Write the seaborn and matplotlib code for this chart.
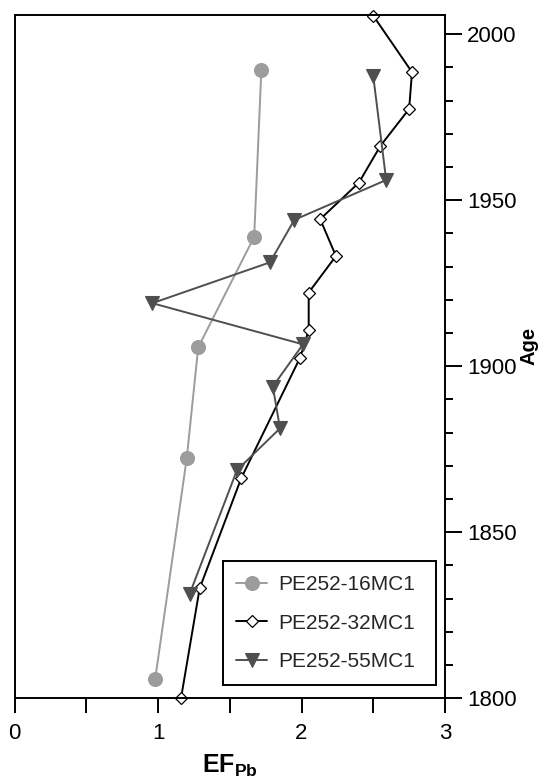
import matplotlib
matplotlib.use("Agg")
import matplotlib.pyplot as plt
import seaborn as sns
from matplotlib.ticker import FixedLocator, MultipleLocator

# ---- data ----
core16_age = [1989.2, 1939.0, 1905.7, 1872.3, 1805.8]
core16_ef = [1.72, 1.67, 1.28, 1.20, 0.98]

core32_age = [2005.6, 1988.6, 1977.5, 1966.4, 1955.3, 1944.3, 1933.2,
              1922.2, 1910.9, 1902.6, 1866.3, 1833.1, 1800.0]
core32_ef = [2.50, 2.77, 2.75, 2.55, 2.40, 2.13, 2.24,
             2.05, 2.05, 1.99, 1.58, 1.29, 1.16]

core55_age = [1987.4, 1956.1, 1944.1, 1931.3, 1919.0, 1906.6,
              1893.9, 1881.3, 1868.7, 1831.4]
core55_ef = [2.50, 2.59, 1.95, 1.78, 0.96, 2.01,
             1.80, 1.85, 1.55, 1.22]

series_labels = ["PE252-16MC1", "PE252-32MC1", "PE252-55MC1"]
x_ticks = [0, 1, 2, 3]
x_minor = [0.5, 1.5, 2.5]
y_ticks = [1800, 1850, 1900, 1950, 2000]

sns.set_theme(style="white")
plt.rcParams["font.family"] = ["Liberation Sans", "DejaVu Sans"]
plt.rcParams["mathtext.fontset"] = "custom"
plt.rcParams["mathtext.bf"] = "Liberation Sans:bold"
plt.rcParams["mathtext.rm"] = "Liberation Sans"
plt.rcParams["axes.edgecolor"] = "black"
plt.rcParams["axes.linewidth"] = 1.4

fig = plt.figure(figsize=(5.44, 7.78), dpi=100)
ax = fig.add_axes([0.0268, 0.1025, 0.7912, 0.8782])

c16 = "#9c9c9c"
c55 = "#4f4f4f"

sns.lineplot(x=core16_ef, y=core16_age, sort=False, estimator=None, ax=ax,
             color=c16, linewidth=1.4, marker="o", markersize=10,
             markeredgecolor=c16, markerfacecolor=c16, markeredgewidth=0.8,
             label=series_labels[0], clip_on=False)
sns.lineplot(x=core32_ef, y=core32_age, sort=False, estimator=None, ax=ax,
             color="black", linewidth=1.4, marker="D", markersize=6.5,
             markeredgecolor="black", markerfacecolor="white", markeredgewidth=0.9,
             label=series_labels[1], clip_on=False)
sns.lineplot(x=core55_ef, y=core55_age, sort=False, estimator=None, ax=ax,
             color=c55, linewidth=1.4, marker="v", markersize=9.5,
             markeredgecolor=c55, markerfacecolor=c55, markeredgewidth=0.8,
             label=series_labels[2], clip_on=False)

ax.set_xlim(0, 3)
ax.set_ylim(1800, 2005.8)

ax.xaxis.set_major_locator(FixedLocator(x_ticks))
ax.xaxis.set_minor_locator(FixedLocator(x_minor))
ax.set_xticklabels([str(t) for t in x_ticks])
ax.yaxis.tick_right()
ax.yaxis.set_label_position("right")
ax.yaxis.set_major_locator(FixedLocator(y_ticks))
ax.yaxis.set_minor_locator(MultipleLocator(10))
ax.set_yticklabels([str(t) for t in y_ticks])

ax.tick_params(axis="x", which="both", bottom=True, top=False, direction="out",
               length=10.8, width=1.4, color="black", labelsize=16, pad=7,
               labelcolor="black")
ax.tick_params(axis="y", which="major", left=False, right=True, direction="out",
               length=12, width=1.4, color="black", labelsize=16, pad=4,
               labelcolor="black")
ax.tick_params(axis="y", which="minor", left=False, right=True, direction="out",
               length=6, width=1.4, color="black")

for s in ax.spines.values():
    s.set_visible(True)
    s.set_color("black")
    s.set_linewidth(1.4)

ax.set_xlabel(r"$\mathbf{EF}_{\mathbf{Pb}}$", fontsize=18, color="black")
ax.xaxis.set_label_coords(0.5, -0.080)
ax.set_ylabel("Age", fontsize=14.5, fontweight="bold", color="black")
ax.yaxis.set_label_coords(1.172, 0.515)

handles, labels = ax.get_legend_handles_labels()
leg = ax.legend(handles, labels, loc="lower left",
                bbox_to_anchor=(0.4835, 0.0195, 0.4955, 0.18), mode="expand",
                fontsize=15, frameon=True, fancybox=False, edgecolor="black",
                framealpha=1, borderpad=0.65, labelspacing=0.95,
                handlelength=1.5, handletextpad=0.5, borderaxespad=0)
leg.get_frame().set_linewidth(1.4)

fig.savefig("out.png", dpi=100)
